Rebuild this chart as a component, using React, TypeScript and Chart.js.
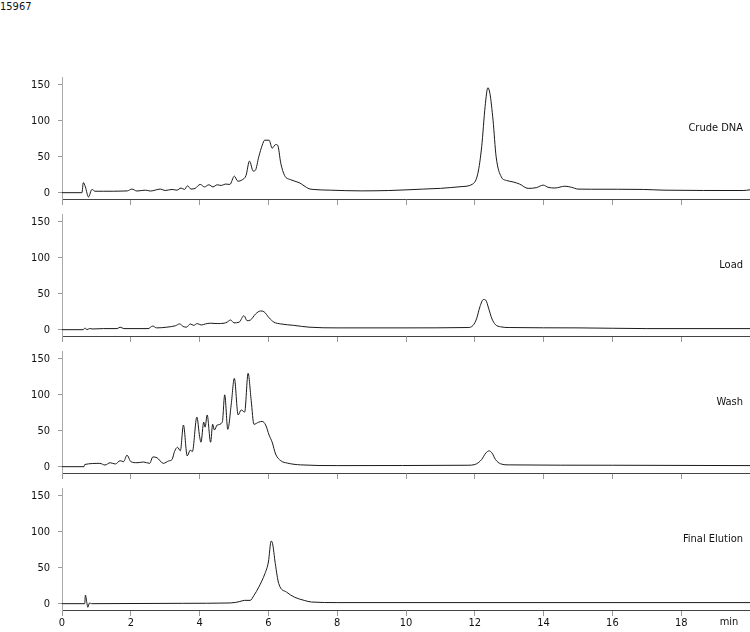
import React, { useEffect, useRef } from "react";
import { Chart, registerables } from "chart.js";

Chart.register(...registerables);

const TITLE = "15967";
const X_UNIT = "min";
const X_TICKS = [0, 2, 4, 6, 8, 10, 12, 14, 16, 18];
const Y_TICKS = [0, 50, 100, 150];
const PANEL_LABELS = ["Crude DNA", "Load", "Wash", "Final Elution"];

const crudeTime = [0, 0.58, 0.62, 0.68, 0.77, 0.87, 0.96, 1.2, 1.5, 1.8, 1.9, 2.03, 2.18, 2.42, 2.57, 2.86, 3.0, 3.2, 3.34, 3.46, 3.56, 3.65, 3.75, 3.87, 4.02, 4.14, 4.27, 4.39, 4.51, 4.63, 4.75, 4.88, 5.01, 5.11, 5.24, 5.35, 5.45, 5.56, 5.62, 5.72, 5.82, 5.89, 6.02, 6.11, 6.21, 6.27, 6.36, 6.47, 6.65, 6.89, 7.18, 7.3, 7.8, 8.7, 9.5, 10.5, 11.0, 11.6, 11.94, 12.09, 12.2, 12.3, 12.38, 12.44, 12.53, 12.62, 12.77, 12.92, 13.11, 13.3, 13.55, 13.79, 13.99, 14.13, 14.33, 14.62, 14.81, 15.0, 15.4, 16.9, 17.5, 19.8, 20];
const crudeSignal = [0, 0, 14, 8, -6, 4.5, 2, 2, 2, 2.3, 2.5, 5, 2.3, 3.5, 2.3, 5, 3, 4.5, 3.5, 6.5, 4.5, 9.5, 5, 6, 11.5, 8, 11, 8, 11, 10, 12, 11.5, 23, 16, 18, 24, 44, 30, 31, 50, 66, 73, 73, 62, 67, 66, 41, 24, 18, 14, 5.5, 4.5, 3.5, 2.5, 3, 5, 6, 8.4, 12, 27, 64, 120, 146, 138, 101, 50, 22, 17, 15, 12, 6, 7, 10.5, 7.5, 6.5, 9, 7.5, 5, 4.8, 4.5, 3.5, 3, 4];

const loadTime = [0, 0.62, 0.67, 0.72, 0.8, 0.9, 1.2, 1.6, 1.69, 1.8, 2.5, 2.64, 2.75, 3.05, 3.3, 3.42, 3.52, 3.62, 3.73, 3.83, 3.93, 4.05, 4.17, 4.31, 4.51, 4.71, 4.8, 4.9, 5.0, 5.15, 5.29, 5.38, 5.48, 5.63, 5.77, 5.87, 6.02, 6.16, 6.36, 6.74, 7.18, 8, 10, 11.8, 11.95, 12.05, 12.15, 12.25, 12.32, 12.4, 12.5, 12.6, 12.75, 13.0, 15, 17, 20];
const loadSignal = [0, 0, 2.5, 0, 1.5, 1, 1.5, 1.5, 3.5, 1.5, 1.5, 5, 2.5, 3.5, 5.5, 8, 4.5, 3.5, 8, 6, 8.5, 6.5, 8, 9, 8.5, 9, 10.5, 13.5, 9.5, 10.5, 19.5, 12.5, 13.5, 22, 26, 25, 16.5, 10.5, 8, 6, 3.5, 2.5, 2.5, 3, 6, 15, 32, 42, 41, 30, 15, 7, 4, 3, 2.5, 1.5, 1.5];

const washTime = [0, 0.64, 0.66, 1.1, 1.25, 1.4, 1.55, 1.69, 1.79, 1.89, 2.0, 2.18, 2.37, 2.55, 2.64, 2.76, 2.95, 3.1, 3.2, 3.27, 3.36, 3.44, 3.53, 3.64, 3.73, 3.79, 3.92, 4.0, 4.04, 4.12, 4.16, 4.22, 4.32, 4.38, 4.43, 4.51, 4.66, 4.73, 4.82, 4.92, 5.01, 5.12, 5.21, 5.31, 5.41, 5.5, 5.58, 5.72, 5.82, 5.92, 6.02, 6.11, 6.21, 6.36, 6.55, 6.94, 8, 11.8, 12.0, 12.2, 12.32, 12.42, 12.5, 12.6, 12.75, 13.0, 16, 20];
const washSignal = [0, 0, 3, 4.6, 2.3, 5.5, 3.7, 8.3, 7, 16, 7, 5.5, 6.5, 4.6, 13.5, 12.5, 4.6, 8, 10, 21, 27, 22, 58, 15, 23, 21, 69, 42, 34, 62, 55, 72, 34, 59, 51, 58, 62, 100, 52, 87, 123, 72, 79, 76, 130, 92, 59, 62, 63, 58, 44, 34, 17.5, 8.3, 5, 2.5, 1.5, 2, 3, 10, 19, 22, 19, 10, 4, 2.5, 2, 1.5];

const elutionTime = [0, 0.66, 0.68, 0.72, 0.75, 0.8, 0.86, 3.5, 4.9, 5.17, 5.3, 5.47, 5.58, 5.72, 5.9, 6.0, 6.08, 6.12, 6.2, 6.3, 6.53, 6.76, 7.04, 7.25, 8, 20];
const elutionSignal = [0, 0, 12, 2, -5, 1, 0, 0.5, 1, 3, 4.6, 4.6, 11.5, 23, 42, 58, 87, 84, 56, 28, 16, 9, 4.6, 2.3, 1.5, 1.5];

const SERIES_TIMES = [crudeTime, loadTime, washTime, elutionTime];
const SERIES_SIGNALS = [crudeSignal, loadSignal, washSignal, elutionSignal];

const FONT = "'DejaVu Sans Condensed', 'DejaVu Sans', sans-serif";
const PANEL_TOP = 72;
const PANEL_STEP = 137;
const AREA_TOP = 5;
const AREA_H = 122;

function Panel(props: { index: number; last: boolean }) {
  const { index, last } = props;
  const ref = useRef<HTMLCanvasElement>(null);
  const H = last ? 632 - (PANEL_TOP + PANEL_STEP * index) : PANEL_STEP;

  useEffect(() => {
    const canvas = ref.current!;
    const times = SERIES_TIMES[index];
    const signals = SERIES_SIGNALS[index];
    const label = PANEL_LABELS[index];

    const labelPlugin = {
      id: "panelLabel" + index,
      afterDraw(chart: any) {
        const ctx = chart.ctx;
        const area = chart.chartArea;
        ctx.save();
        ctx.fillStyle = "#111";
        ctx.font = "11px " + FONT;
        ctx.textAlign = "right";
        ctx.textBaseline = "middle";
        ctx.fillText(label, 743, area.top + 51);
        if (last) {
          ctx.textAlign = "center";
          ctx.textBaseline = "top";
          ctx.fillText(X_UNIT, 729, area.bottom + 7);
        }
        ctx.restore();
      },
    };

    const chart = new Chart(canvas, {
      type: "line",
      data: {
        datasets: [
          {
            data: times.map((t, i) => ({ x: t, y: signals[i] })),
            borderColor: "#1a1a1a",
            borderWidth: 1,
            pointRadius: 0,
            cubicInterpolationMode: "monotone",
            fill: false,
          },
        ],
      },
      options: {
        responsive: false,
        maintainAspectRatio: false,
        animation: false,
        events: [],
        layout: { padding: { top: AREA_TOP, left: 0, right: 0, bottom: 0 } },
        plugins: { legend: { display: false }, tooltip: { enabled: false } },
        scales: {
          x: {
            type: "linear",
            min: 0,
            max: 20,
            afterBuildTicks: (s: any) => {
              s.ticks = X_TICKS.map((v) => ({ value: v }));
            },
            afterFit: (s: any) => {
              s.height = H - AREA_TOP - AREA_H;
              s.paddingLeft = 0;
              s.paddingRight = 0;
            },
            grid: { drawOnChartArea: false, drawTicks: true, tickLength: 6, color: "#999" },
            border: { display: true, color: "#444", width: 1 },
            ticks: {
              display: last,
              font: { family: FONT, size: 11 },
              color: "#111",
              padding: 1,
              maxRotation: 0,
              autoSkip: false,
            },
          },
          y: {
            type: "linear",
            min: -8.8,
            max: 161,
            afterBuildTicks: (s: any) => {
              s.ticks = Y_TICKS.map((v) => ({ value: v }));
            },
            afterFit: (s: any) => {
              s.width = 62;
              s.paddingTop = 0;
              s.paddingBottom = 0;
            },
            grid: { drawOnChartArea: false, drawTicks: true, tickLength: 4, color: "#999" },
            border: { display: true, color: "#aaa", width: 1 },
            ticks: {
              font: { family: FONT, size: 11 },
              color: "#111",
              padding: 8,
            },
          },
        },
      } as any,
      plugins: [labelPlugin],
    });
    return () => chart.destroy();
  }, []);

  return (
    <div
      style={{
        position: "absolute",
        left: 0,
        top: PANEL_TOP + PANEL_STEP * index,
        width: 750,
        height: H,
      }}
    >
      <canvas ref={ref} width={750} height={H} style={{ display: "block" }} />
    </div>
  );
}

export default function App() {
  return (
    <div
      style={{
        position: "absolute",
        left: 0,
        top: 0,
        width: 750,
        height: 632,
        background: "#fff",
        overflow: "hidden",
      }}
    >
      <div
        style={{
          position: "absolute",
          left: 0,
          top: 0,
          font: "11px " + FONT,
          lineHeight: "13px",
          color: "#111",
        }}
      >
        {TITLE}
      </div>
      {PANEL_LABELS.map((_, i) => (
        <Panel key={i} index={i} last={i === PANEL_LABELS.length - 1} />
      ))}
    </div>
  );
}
